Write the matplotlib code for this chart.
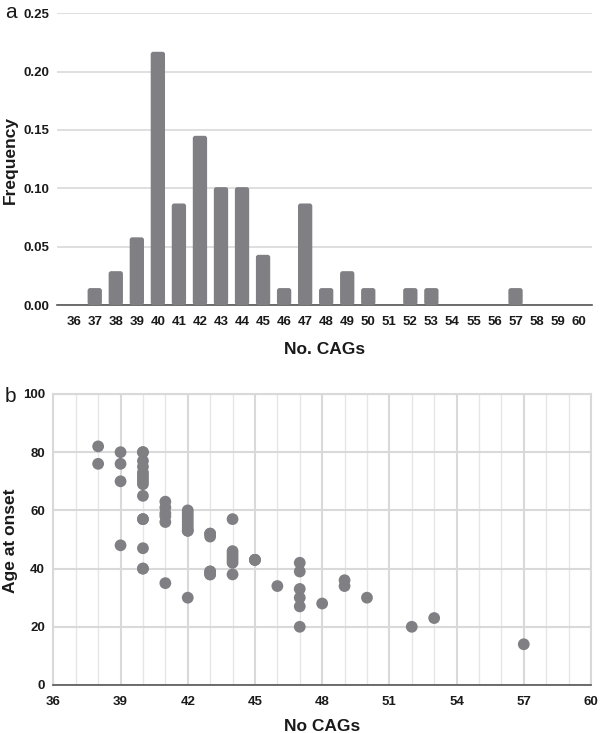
import matplotlib
matplotlib.use('Agg')
import matplotlib.pyplot as plt
from matplotlib.patches import FancyBboxPatch
import numpy as np

plt.rcParams['font.family'] = ['Liberation Sans', 'DejaVu Sans']

# panel a: histogram of CAG repeat lengths
cag_bins = list(range(36, 61))
freq = [0.0, 0.0145, 0.029, 0.058, 0.217, 0.087, 0.145, 0.101, 0.101, 0.043,
        0.0145, 0.087, 0.0145, 0.029, 0.0145, 0.0, 0.0145, 0.0145, 0.0, 0.0,
        0.0, 0.0145, 0.0, 0.0, 0.0]

# panel b: age at onset vs CAG repeats (one entry per patient)
cags = ([38] * 2 + [39] * 4 + [40] * 15 + [41] * 6 + [42] * 10 + [43] * 7 +
        [44] * 7 + [45] * 3 + [46] + [47] * 6 + [48] + [49] * 2 + [50] + [52] + [53] + [57])
ages = [82, 76,
        80, 76, 70, 48,
        80, 80, 77, 75, 73, 72, 71, 70, 69, 65, 57, 57, 47, 40, 40,
        63, 61, 59, 58, 56, 35,
        60, 59, 58, 57, 56, 55, 54, 53, 53, 30,
        52, 52, 51, 39, 39, 38, 38,
        57, 46, 45, 44, 43, 42, 38,
        43, 43, 43,
        34,
        42, 39, 33, 30, 27, 20,
        28,
        36, 34,
        30,
        20,
        23,
        14]

GREY = '#808084'
GRID = '#d9d9d9'
TXT = '#1a1a1a'
W, H = 602, 733

fig = plt.figure(figsize=(W / 100, H / 100), dpi=100)

# ---- panel a ----
ax1 = fig.add_axes([0.0952, 0.5839, 0.8887, 0.398])
x = np.arange(len(cag_bins))
bw = 0.68
for xi, v in zip(x, freq):
    if v <= 0:
        continue
    patch = FancyBboxPatch((xi - bw / 2, 0), bw, v,
                           boxstyle='round,pad=0,rounding_size=0.12',
                           mutation_aspect=0.25 / 291.7 * 21.2,
                           fc=GREY, ec='none', zorder=3)
    ax1.add_patch(patch)
ax1.set_xlim(-0.78, len(cag_bins) - 0.35)
ax1.set_ylim(0, 0.25)
ax1.set_yticks([0, 0.05, 0.10, 0.15, 0.20, 0.25])
ax1.set_yticklabels(['0.00', '0.05', '0.10', '0.15', '0.20', '0.25'])
ax1.set_xticks(x)
ax1.set_xticklabels([str(c) for c in cag_bins])
ax1.yaxis.grid(True, color=GRID, lw=1.2, zorder=0)
ax1.set_axisbelow(True)
for s in ['top', 'right', 'left']:
    ax1.spines[s].set_visible(False)
ax1.spines['bottom'].set_color('#555555')
ax1.spines['bottom'].set_linewidth(1.2)
ax1.tick_params(length=0, pad=6, labelsize=9.5, labelcolor=TXT)
ax1.tick_params(axis='x', pad=8)
for lab in ax1.get_xticklabels() + ax1.get_yticklabels():
    lab.set_fontweight('bold')
ax1.set_xlabel('No. CAGs', fontsize=12.5, fontweight='bold', color=TXT, labelpad=10)
fig.text(10 / W, 1 - 160 / H, 'Frequency', rotation=90, fontsize=12.5,
         fontweight='bold', color=TXT, ha='center', va='center')
fig.text(5 / W, 1 - 13 / H, 'a', fontsize=15, va='center', ha='left', color=TXT)

# ---- panel b ----
ax2 = fig.add_axes([0.0886, 0.0655, 0.8931, 0.397])
ax2.scatter(cags, ages, s=72, color=GREY, edgecolors='none', zorder=3)
ax2.set_xlim(36, 60)
ax2.set_ylim(0, 100)
ax2.set_xticks(range(36, 61, 3))
ax2.set_xticks(range(36, 61), minor=True)
ax2.set_yticks(range(0, 101, 20))
ax2.grid(True, which='major', color=GRID, lw=1.5, zorder=0)
ax2.xaxis.grid(True, which='minor', color='#e6e6e6', lw=1.0, zorder=0)
ax2.set_axisbelow(True)
for s in ['top', 'right', 'left']:
    ax2.spines[s].set_color(GRID)
    ax2.spines[s].set_linewidth(1.5)
ax2.spines['bottom'].set_color('#555555')
ax2.spines['bottom'].set_linewidth(1.2)
ax2.tick_params(which='both', length=0, labelsize=9.5, labelcolor=TXT)
ax2.tick_params(axis='x', pad=8)
ax2.tick_params(axis='y', pad=6)
for lab in ax2.get_xticklabels() + ax2.get_yticklabels():
    lab.set_fontweight('bold')
ax2.set_xlabel('No CAGs', fontsize=12.5, fontweight='bold', color=TXT, labelpad=8)
fig.text(11 / W, 1 - 541 / H, 'Age at onset', rotation=90, fontsize=12.5,
         fontweight='bold', color=TXT, ha='center', va='center')
fig.text(5 / W, 1 - 396 / H, 'b', fontsize=15, va='center', ha='left', color=TXT)

fig.savefig('out.png', dpi=100)
